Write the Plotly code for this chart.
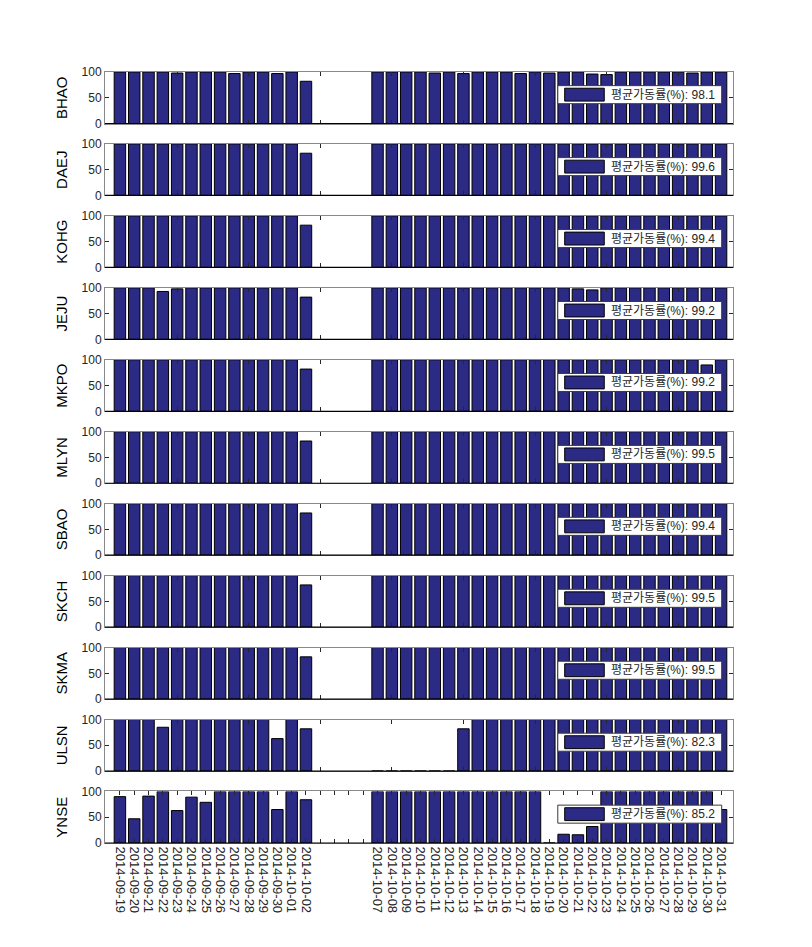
import pandas as pd
import plotly.graph_objects as go
from plotly.subplots import make_subplots

# ---------------- data ----------------
dates = (
    [f"2014-09-{d:02d}" for d in range(19, 31)]
    + ["2014-10-01", "2014-10-02"]
    + [f"2014-10-{d:02d}" for d in range(7, 32)]
)

stations = ["BHAO", "DAEJ", "KOHG", "JEJU", "MKPO", "MLYN",
            "SBAO", "SKCH", "SKMA", "ULSN", "YNSE"]

# values: 14 days (09-19..10-02) + 25 days (10-07..10-31)
bhao = [100, 100, 100, 100, 98, 100, 100, 100, 97, 100, 100, 97, 100, 82,
        100, 100, 100, 100, 98, 100, 97, 100, 100, 100, 97, 100, 98,
        100, 100, 96, 95, 100, 100, 100, 100, 100, 98, 100, 100]
daej = [100] * 13 + [82] + [100] * 25
kohg = [100] * 13 + [82] + [100] * 25
jeju = [100, 100, 100, 93, 98, 100, 100, 100, 100, 100, 100, 100, 100, 82,
        100, 100, 100, 100, 100, 100, 100, 100, 100, 100, 100, 100, 100,
        100, 98, 96, 100, 100, 100, 100, 100, 100, 100, 100, 100]
mkpo = [100] * 13 + [82] + [100] * 23 + [90, 100]
mlyn = [100] * 13 + [82] + [100] * 25
sbao = [100] * 13 + [82] + [100] * 25
skch = [100] * 13 + [82] + [100] * 25
skma = [100] * 13 + [82] + [100] * 25
ulsn = [100, 100, 100, 85, 100, 100, 100, 100, 100, 100, 100, 63, 100, 82,
        0, 0, 0, 0, 0, 0, 82, 100, 100, 100, 100, 100, 100,
        100, 100, 100, 100, 100, 100, 100, 100, 100, 100, 100, 100]
ynse = [90, 47, 91, 100, 63, 89, 79, 100, 100, 100, 100, 65, 100, 84,
        100, 100, 100, 100, 100, 100, 100, 100, 100, 100, 100, 100, 0,
        17, 16, 32, 100, 100, 100, 100, 100, 100, 100, 100, 65]

series = [bhao, daej, kohg, jeju, mkpo, mlyn, sbao, skch, skma, ulsn, ynse]
avg_rates = [98.1, 99.6, 99.4, 99.2, 99.2, 99.5, 99.4, 99.5, 99.5, 82.3, 85.2]
legend_label = "평균가동률(%)"
y_ticks = [0, 50, 100]

# ---------------- styling ----------------
BAR = "#2b2a85"
FRAME = "#8a8a8a"
TXT = "#262626"
FONT = "Liberation Sans, Arial, Noto Sans CJK KR, sans-serif"

day_ms = 86400000
dt = pd.to_datetime(dates)
all_days = pd.date_range(dt[0], dt[-1], freq="D")
x_lo = (dt[0] - pd.Timedelta(hours=25)).strftime("%Y-%m-%d %H:%M")
x_hi = (dt[-1] + pd.Timedelta(hours=20)).strftime("%Y-%m-%d %H:%M")

n = len(stations)
fig = make_subplots(rows=n, cols=1, vertical_spacing=0.0265)

for i, (name, vals) in enumerate(zip(stations, series)):
    r = i + 1
    fig.add_trace(
        go.Bar(x=dates, y=vals, width=0.8 * day_ms,
               marker=dict(color=BAR, line=dict(color="#000000", width=1)),
               showlegend=False, name=name),
        row=r, col=1)

    last = (r == n)
    if last:
        tickvals = list(all_days)
        ticktext = [d.strftime("%Y-%m-%d") if d.strftime("%Y-%m-%d") in dates else ""
                    for d in all_days]
    else:
        tickvals = list(pd.date_range(dt[0] - pd.Timedelta(days=1), dt[-1], freq="5D"))
        ticktext = [""] * len(tickvals)

    fig.update_xaxes(row=r, col=1, type="date", range=[x_lo, x_hi],
                     tickmode="array", tickvals=tickvals, ticktext=ticktext,
                     showticklabels=last, tickangle=90,
                     ticks="inside", ticklen=4, tickcolor=TXT,
                     showline=True, linecolor=FRAME, linewidth=1, mirror="ticks",
                     showgrid=False, zeroline=False,
                     tickfont=dict(family=FONT, size=13, color=TXT))
    fig.update_yaxes(row=r, col=1, range=[0, 100], tickvals=y_ticks,
                     ticks="inside", ticklen=4, tickcolor=TXT,
                     showline=True, linecolor=FRAME, linewidth=1, mirror="ticks",
                     showgrid=False, zeroline=False,
                     tickfont=dict(family=FONT, size=12, color=TXT),
                     title=dict(text=name, standoff=10,
                                font=dict(family=FONT, size=15, color="#000000")))

    xs = "x" if r == 1 else f"x{r}"
    ys = "y" if r == 1 else f"y{r}"
    xd, yd = f"{xs} domain", f"{ys} domain"
    # black baseline
    fig.add_shape(type="line", xref=xd, yref=yd, x0=0, x1=1, y0=0, y1=0,
                  line=dict(color="#000000", width=1.2))
    # legend box
    fig.add_shape(type="rect", xref=xd, yref=yd, x0=0.721, x1=0.982, y0=0.385, y1=0.735,
                  fillcolor="#ffffff", line=dict(color="#3a3a3a", width=1))
    fig.add_shape(type="rect", xref=xd, yref=yd, x0=0.732, x1=0.795, y0=0.435, y1=0.685,
                  fillcolor=BAR, line=dict(color="#000000", width=1))
    fig.add_annotation(xref=xd, yref=yd, x=0.803, y=0.56, xanchor="left", yanchor="middle",
                       showarrow=False, text=f"{legend_label}: {avg_rates[i]}",
                       font=dict(family=FONT, size=12, color=TXT))

fig.update_layout(width=812, height=947, margin=dict(l=105, r=79, t=72, b=104),
                  paper_bgcolor="#ffffff", plot_bgcolor="#ffffff",
                  bargap=0.2, showlegend=False, font=dict(family=FONT))

fig.write_html("out.html")
